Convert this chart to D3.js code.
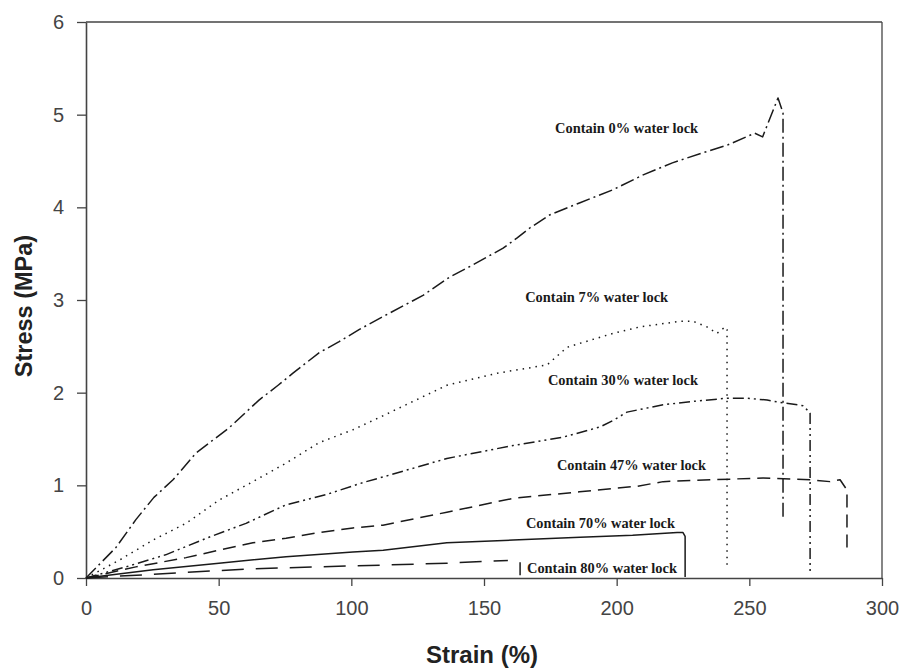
<!DOCTYPE html>
<html>
<head>
<meta charset="utf-8">
<script src="https://cdn.jsdelivr.net/npm/d3@7"></script>
<style>
  html, body { margin: 0; padding: 0; background: #fff; }
  svg { display: block; }
</style>
</head>
<body>
<svg id="chart" width="899" height="671"></svg>
<script>
// ---- Data ----
const xTicks = [0, 50, 100, 150, 200, 250, 300];
const yTicks = [0, 1, 2, 3, 4, 5, 6];

const seriesNames = [
  "Contain 0% water lock",
  "Contain 7% water lock",
  "Contain 30% water lock",
  "Contain 47% water lock",
  "Contain 70% water lock",
  "Contain 80% water lock"
];

const strain0 = [0, 11.3, 18.8, 25.6, 32.8, 41.5, 53.9, 65.2, 72.4, 78.0, 87.8, 95.4, 102.9, 111.2, 127.0, 137.2, 145.9, 157.2, 162.5, 167.4, 174.9, 186.2, 198.6, 210, 221, 232.6, 241.6, 252, 255, 260.8, 262.7, 262.7];
const stress0 = [0, 0.33, 0.63, 0.87, 1.06, 1.35, 1.62, 1.92, 2.08, 2.21, 2.43, 2.55, 2.68, 2.81, 3.05, 3.25, 3.38, 3.56, 3.67, 3.78, 3.92, 4.05, 4.19, 4.35, 4.48, 4.59, 4.67, 4.80, 4.76, 5.18, 5.02, 0.65];

const strain7 = [0, 12.4, 25.3, 37.7, 50.1, 62.9, 75.4, 87.8, 100.6, 111.9, 136, 155, 173.8, 181.3, 198.6, 208.8, 223.9, 228.8, 234, 237.8, 240.9, 241.6, 241.6];
const stress7 = [0, 0.19, 0.41, 0.59, 0.84, 1.04, 1.24, 1.46, 1.60, 1.75, 2.08, 2.21, 2.30, 2.49, 2.64, 2.71, 2.77, 2.77, 2.71, 2.64, 2.71, 2.68, 0.10];

const strain30 = [0, 15, 30, 46.4, 60.3, 75.4, 90.5, 104.4, 111.9, 136, 161, 179.8, 193.7, 198.6, 203.9, 217.5, 230.3, 241.6, 249, 256.7, 262.7, 270.3, 272.9, 272.9];
const stress30 = [0, 0.12, 0.25, 0.44, 0.59, 0.79, 0.90, 1.03, 1.09, 1.29, 1.43, 1.52, 1.63, 1.70, 1.79, 1.87, 1.91, 1.94, 1.94, 1.92, 1.89, 1.86, 1.78, 0.05];

const strain47 = [0, 18.8, 37.7, 50.1, 62.9, 75.4, 87.8, 100.6, 111.9, 136, 161, 186, 207.7, 217.5, 236.3, 255.2, 272.9, 280.4, 284.2, 286.8, 286.8];
const stress47 = [0, 0.12, 0.22, 0.30, 0.38, 0.43, 0.49, 0.54, 0.57, 0.71, 0.86, 0.93, 0.99, 1.04, 1.06, 1.08, 1.06, 1.04, 1.06, 0.95, 0.28];

const strain70 = [0, 25.3, 50.1, 75.4, 100.6, 112, 136, 161, 186.2, 206, 222.8, 225, 225.8, 225.8];
const stress70 = [0, 0.09, 0.16, 0.23, 0.28, 0.30, 0.38, 0.41, 0.44, 0.46, 0.49, 0.49, 0.45, 0.01];

const strain80 = [0, 37.7, 62.9, 87.8, 112, 136, 159];
const stress80 = [0, 0.06, 0.10, 0.12, 0.14, 0.16, 0.19];
const strain80tail = [163.6, 163.6];
const stress80tail = [0.17, 0.03];

// label anchors in data units (left edge, vertical centre)
const labelStrain = [176.8, 165.5, 174.1, 177.5, 165.8, 166.2];
const labelStress = [4.86, 3.03, 2.14, 1.22, 0.60, 0.11];

// ---- Layout ----
const svg = d3.select("#chart");
const mLeft = 86, mRight = 882, mTop = 22, mBottom = 578;
const x = d3.scaleLinear().domain([0, 300]).range([mLeft, mRight]);
const y = d3.scaleLinear().domain([0, 6]).range([mBottom, mTop]);

const axisColor = "#444";
const lineColor = "#1a1a1a";

// frame (top and right)
svg.append("line").attr("x1", mLeft).attr("x2", mRight).attr("y1", mTop).attr("y2", mTop)
  .attr("stroke", axisColor).attr("stroke-width", 1.3);
svg.append("line").attr("x1", mRight).attr("x2", mRight).attr("y1", mTop).attr("y2", mBottom)
  .attr("stroke", axisColor).attr("stroke-width", 1.3);

// axes
const xAxis = d3.axisBottom(x).tickValues(xTicks).tickFormat(d3.format("d"))
  .tickSize(8).tickPadding(15).tickSizeOuter(0);
const yAxis = d3.axisLeft(y).tickValues(yTicks).tickFormat(d3.format("d"))
  .tickSize(9).tickPadding(13).tickSizeOuter(0);

const gx = svg.append("g").attr("transform", `translate(0,${mBottom})`).call(xAxis);
const gy = svg.append("g").attr("transform", `translate(${mLeft},0)`).call(yAxis);
[gx, gy].forEach(g => {
  g.select(".domain").attr("stroke", axisColor).attr("stroke-width", 1.6);
  g.selectAll(".tick line").attr("stroke", axisColor).attr("stroke-width", 1.3);
  g.selectAll(".tick text").attr("fill", "#444")
    .style("font-family", "'Liberation Sans', Arial, sans-serif")
    .style("font-size", "20px");
});

// axis titles
svg.append("text").attr("x", 482).attr("y", 663).attr("text-anchor", "middle")
  .style("font-family", "'Liberation Sans', Arial, sans-serif").style("font-weight", "bold")
  .style("font-size", "24px").attr("fill", "#222").text("Strain (%)");
svg.append("text").attr("transform", "translate(32,306) rotate(-90)").attr("text-anchor", "middle")
  .style("font-family", "'Liberation Sans', Arial, sans-serif").style("font-weight", "bold")
  .style("font-size", "23.5px").attr("fill", "#222").text("Stress (MPa)");

// curves
const line = d3.line().x(d => x(d[0])).y(d => y(d[1]));
const series = [
  { xs: strain0, ys: stress0, dash: "14,4,2,4" },
  { xs: strain7, ys: stress7, dash: "1.5,5" },
  { xs: strain30, ys: stress30, dash: "11,4,2,4,2,4" },
  { xs: strain47, ys: stress47, dash: "13,7" },
  { xs: strain70, ys: stress70, dash: null },
  { xs: strain80, ys: stress80, dash: "22,12" },
  { xs: strain80tail, ys: stress80tail, dash: null }
];
series.forEach(s => {
  const pts = s.xs.map((v, i) => [v, s.ys[i]]);
  const p = svg.append("path").datum(pts).attr("d", line)
    .attr("fill", "none").attr("stroke", lineColor).attr("stroke-width", 1.5)
    .attr("stroke-linejoin", "round");
  if (s.dash) p.attr("stroke-dasharray", s.dash);
});

// labels
const labelWidths = [143, 143, 150, 149, 149, 150];
seriesNames.forEach((name, i) => {
  svg.append("text")
    .attr("x", x(labelStrain[i]))
    .attr("y", y(labelStress[i]))
    .attr("dy", "0.35em")
    .attr("textLength", labelWidths[i])
    .attr("lengthAdjust", "spacingAndGlyphs")
    .style("font-family", "'Liberation Serif', 'Times New Roman', serif")
    .style("font-weight", "bold")
    .style("font-size", "15px")
    .attr("fill", "#1a1a1a")
    .text(name);
});
</script>
</body>
</html>
